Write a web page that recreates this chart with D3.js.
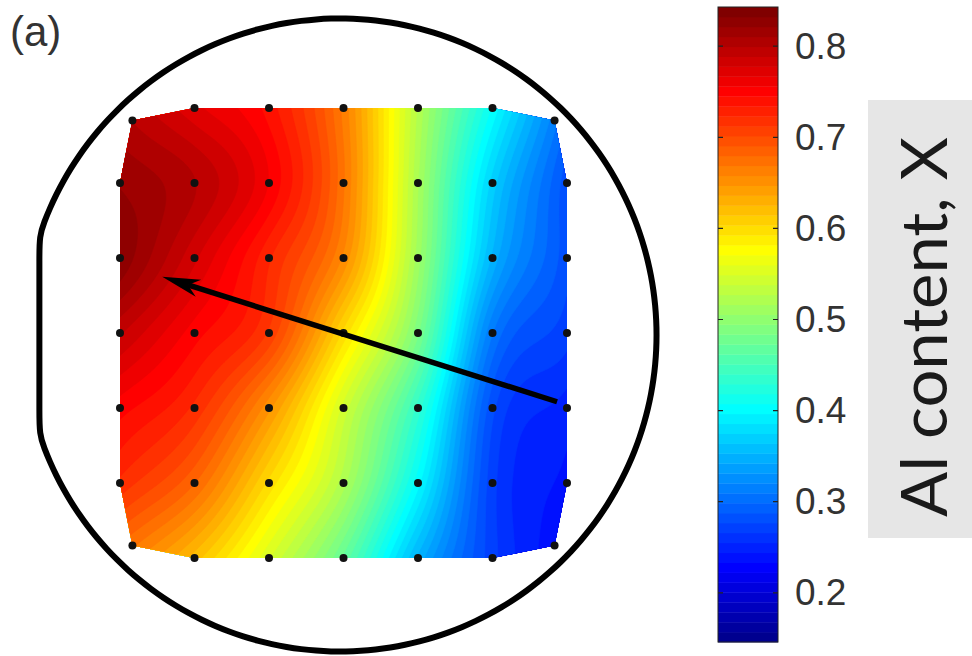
<!DOCTYPE html>
<html><head><meta charset="utf-8">
<script src="https://cdn.jsdelivr.net/npm/d3@7"></script>
<style>body{margin:0;background:#fff} svg{display:block}</style>
</head><body>
<svg id="c" width="972" height="656"></svg>
<script>
// ---- data ----
const gridX = [-18, -12, -6, 0, 6, 12, 18];   // mm
const gridY = [18, 12, 6, 0, -6, -12, -18];   // mm
const cornerPos = 17;                          // corner points pulled inside wafer (mm)
const alContent = [
  [0.80, 0.77, 0.74, 0.665, 0.525, 0.405, 0.30],
  [0.82, 0.80, 0.755, 0.67, 0.517, 0.37, 0.28],
  [0.83, 0.78, 0.725, 0.655, 0.51, 0.35, 0.28],
  [0.79, 0.75, 0.71, 0.60, 0.485, 0.31, 0.27],
  [0.75, 0.72, 0.65, 0.545, 0.435, 0.28, 0.25],
  [0.72, 0.68, 0.60, 0.52, 0.40, 0.27, 0.24],
  [0.67, 0.62, 0.55, 0.47, 0.35, 0.27, 0.23]
];
const colorDomain = [0.146, 0.843];
const colorTicks = [0.2, 0.3, 0.4, 0.5, 0.6, 0.7, 0.8];
const waferRadius = 25.5;      // mm
const waferCenter = [-0.28, -0.16];
const flatHalf = 8.0;          // mm
const arrowFrom = [17.2, -5.5];
const arrowTo = [-14.6, 4.5];
const panelLabel = "(a)";
const cbarLabel = "Al content, X";
const nColors = 64;

// ---- jet colormap (MATLAB jet(64)) ----
function jet64(i) {
  const k = i + 1;
  let r = 0, g = 0, b = 0;
  if (k >= 25 && k <= 40) r = (k - 24) / 16; else if (k >= 41 && k <= 56) r = 1; else if (k >= 57) r = 1 - (k - 56) / 16;
  if (k >= 9 && k <= 24) g = (k - 8) / 16; else if (k >= 25 && k <= 40) g = 1; else if (k >= 41 && k <= 55) g = 1 - (k - 40) / 16;
  if (k <= 8) b = (k + 8) / 16; else if (k <= 24) b = 1; else if (k <= 39) b = 1 - (k - 24) / 16;
  return d3.rgb(r * 255, g * 255, b * 255).toString();
}
const jetColors = d3.range(nColors).map(jet64);

const svg = d3.select("#c");
const x = d3.scaleLinear().domain([-18, 18]).range([120, 567]);
const y = d3.scaleLinear().domain([18, -18]).range([108, 558]);

// ---- measurement points ----
const pts = [];
gridY.forEach((gy, j) => gridX.forEach((gx, i) => {
  const corner = (i === 0 || i === 6) && (j === 0 || j === 6);
  const px = corner ? Math.sign(gx) * cornerPos : gx;
  const py = corner ? Math.sign(gy) * cornerPos : gy;
  pts.push({ x: px, y: py, v: alContent[j][i] });
}));

// ---- bicubic interpolation on grid ----
function val(i, j) {
  if (i < 0) return 2 * val(0, j) - val(1, j);
  if (i > 6) return 2 * val(6, j) - val(5, j);
  if (j < 0) return 2 * val(i, 0) - val(i, 1);
  if (j > 6) return 2 * val(i, 6) - val(i, 5);
  return alContent[j][i];
}
function cub(p0, p1, p2, p3, t) {
  return p1 + 0.5 * t * (p2 - p0 + t * (2 * p0 - 5 * p1 + 4 * p2 - p3 + t * (3 * (p1 - p2) + p3 - p0)));
}
function sample(u, v) {
  u = Math.max(0, Math.min(6, u)); v = Math.max(0, Math.min(6, v));
  let i = Math.min(5, Math.floor(u)), j = Math.min(5, Math.floor(v));
  const tx = u - i, ty = v - j;
  const rows = [-1, 0, 1, 2].map(m => cub(val(i - 1, j + m), val(i, j + m), val(i + 1, j + m), val(i + 2, j + m), tx));
  return cub(rows[0], rows[1], rows[2], rows[3], ty);
}

const step = 2, x0 = 114, y0 = 102, nx = 232, ny = 232;
const values = new Float64Array(nx * ny);
for (let j = 0; j < ny; j++) for (let i = 0; i < nx; i++) {
  const dx = x.invert(x0 + i * step), dy = y.invert(y0 + j * step);
  values[j * nx + i] = sample((dx + 18) / 6, (18 - dy) / 6);
}
const dStep = (colorDomain[1] - colorDomain[0]) / nColors;
const thresholds = d3.range(nColors).map(k => colorDomain[0] + k * dStep);
const contours = d3.contours().size([nx, ny]).thresholds(thresholds)(values);
const path = d3.geoPath(d3.geoIdentity().scale(step).translate([x0 - 0.5 * step, y0 - 0.5 * step]));

const hull = d3.polygonHull(pts.map(p => [x(p.x), y(p.y)]));
svg.append("defs").append("clipPath").attr("id", "hull")
  .append("path").attr("d", "M" + hull.join("L") + "Z");

svg.append("g").attr("clip-path", "url(#hull)")
  .selectAll("path").data(contours).join("path")
  .attr("d", path)
  .attr("fill", (d, k) => jetColors[k])
  .attr("stroke", (d, k) => jetColors[k]).attr("stroke-width", 0.6);

// ---- wafer outline with flat (slightly rounded corners) ----
const rPx = x(waferRadius) - x(0);
const cx = x(waferCenter[0]), cy = y(waferCenter[1]);
const alpha = Math.asin(flatHalf / waferRadius);
const arcPts = d3.range(-Math.PI + alpha, Math.PI - alpha + 1e-9, (2 * Math.PI - 2 * alpha) / 120)
  .map(a => [cx + rPx * Math.cos(a), cy - rPx * Math.sin(a)]);
const flatX = cx - rPx * Math.cos(alpha);
const flatPts = d3.range(1, 8).map(k => [flatX, cy - rPx * Math.sin(alpha) + (2 * rPx * Math.sin(alpha)) * k / 8]);
svg.append("path")
  .attr("d", d3.line().curve(d3.curveBasisClosed)(arcPts.concat(flatPts)))
  .attr("fill", "none").attr("stroke", "#000").attr("stroke-width", 6);

// ---- dots ----
svg.append("g").selectAll("circle").data(pts).join("circle")
  .attr("cx", d => x(d.x)).attr("cy", d => y(d.y)).attr("r", 4).attr("fill", "#111");

// ---- arrow ----
const ax1 = x(arrowFrom[0]), ay1 = y(arrowFrom[1]), ax2 = x(arrowTo[0]), ay2 = y(arrowTo[1]);
const L = Math.hypot(ax2 - ax1, ay2 - ay1), ux = (ax2 - ax1) / L, uy = (ay2 - ay1) / L;
const headLen = 38, headHalf = 9, notch = 27;
const bx = ax2 - ux * headLen, by = ay2 - uy * headLen;
const nxp = ax2 - ux * notch, nyp = ay2 - uy * notch;
svg.append("line").attr("x1", ax1).attr("y1", ay1).attr("x2", nxp).attr("y2", nyp)
  .attr("stroke", "#000").attr("stroke-width", 5.5);
svg.append("path")
  .attr("d", `M${ax2},${ay2}L${bx - uy * headHalf},${by + ux * headHalf}L${nxp},${nyp}L${bx + uy * headHalf},${by - ux * headHalf}Z`)
  .attr("fill", "#000");

// ---- panel label ----
svg.append("text").attr("x", 10).attr("y", 46).text(panelLabel)
  .attr("font-family", "Liberation Sans, Arial, sans-serif").attr("font-size", 42).attr("fill", "#333");

// ---- colorbar ----
const cb = d3.scaleLinear().domain(colorDomain).range([642, 7]);
const cbX = 718, cbW = 60;
svg.append("g").selectAll("rect").data(jetColors).join("rect")
  .attr("x", cbX).attr("width", cbW)
  .attr("y", (c, k) => cb(colorDomain[0] + (k + 1) * dStep))
  .attr("height", (c, k) => cb(colorDomain[0] + k * dStep) - cb(colorDomain[0] + (k + 1) * dStep) + 0.4)
  .attr("fill", c => c);
svg.append("rect").attr("x", cbX).attr("y", 7).attr("width", cbW).attr("height", 635)
  .attr("fill", "none").attr("stroke", "#222").attr("stroke-width", 1);
const axR = d3.axisRight(cb).tickValues(colorTicks).tickFormat(d3.format(".1f")).tickSize(0).tickPadding(0);
const axG = svg.append("g").attr("transform", `translate(${cbX + cbW + 17},0)`).call(axR);
axG.select(".domain").remove();
axG.selectAll("text").attr("font-family", "Liberation Sans, Arial, sans-serif").attr("font-size", 37).attr("fill", "#333").attr("x", 0);
svg.append("g").selectAll("path").data(colorTicks).join("path")
  .attr("d", t => `M${cbX},${cb(t)}h5M${cbX + cbW},${cb(t)}h-5`)
  .attr("stroke", "#222").attr("stroke-width", 1.2);

// ---- colorbar label box ----
svg.append("rect").attr("x", 868).attr("y", 100).attr("width", 104).attr("height", 438).attr("fill", "#e6e6e6");
svg.append("text").attr("transform", "translate(947,327) rotate(-90)")
  .attr("text-anchor", "middle").attr("font-family", "Lato, Open Sans, sans-serif")
  .attr("font-size", 64).attr("fill", "#1a1a1a")
  .attr("textLength", 380).attr("lengthAdjust", "spacingAndGlyphs")
  .text(cbarLabel);
</script>
</body></html>
